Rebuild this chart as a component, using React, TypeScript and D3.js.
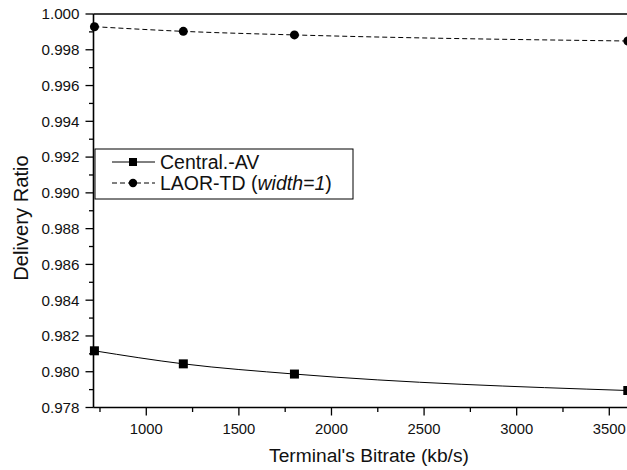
import React from "react";
import * as d3 from "d3";

const bitrates = [720, 1200, 1800, 3600];
const centralAV = [0.98117, 0.98044, 0.97987, 0.97895];
const laorTD = [0.99929, 0.99903, 0.99883, 0.99849];
const yMajorTicks = [0.978, 0.98, 0.982, 0.984, 0.986, 0.988, 0.99, 0.992, 0.994, 0.996, 0.998, 1.0];
const yMinorTicks = [0.979, 0.981, 0.983, 0.985, 0.987, 0.989, 0.991, 0.993, 0.995, 0.997, 0.999];
const xMajorTicks = [1000, 1500, 2000, 2500, 3000, 3500];
const xMinorTicks = [750, 1250, 1750, 2250, 2750, 3250];

const W = 627;
const H = 470;
const m = { left: 93.5, top: 14, bottom: 407.5 };
const font = "'Liberation Sans', Arial, sans-serif";

export default function App() {
  const x = d3.scaleLinear().domain([715, 3600]).range([m.left, 627.8]);
  const y = d3.scaleLinear().domain([0.978, 1.0]).range([m.bottom, m.top]);
  const line = d3
    .line<number>()
    .x((_, i) => x(bitrates[i]))
    .y((d) => y(d))
    .curve(d3.curveMonotoneX);

  const legendX = 95;
  const legendY = 149;

  return (
    <svg width={W} height={H} style={{ position: "absolute", left: 0, top: 0, background: "#fff" }}>
      <defs>
        <clipPath id="plot">
          <rect x={m.left - 6} y={m.top - 6} width={W} height={m.bottom - m.top + 12} />
        </clipPath>
      </defs>
      <rect width={W} height={H} fill="#fff" />

      {/* frame */}
      <line x1={m.left} x2={W + 2} y1={m.top} y2={m.top} stroke="#000" strokeWidth={1.6} />
      <line x1={m.left} x2={W + 2} y1={m.bottom} y2={m.bottom} stroke="#000" strokeWidth={1.6} />
      <line x1={m.left} x2={m.left} y1={m.top} y2={m.bottom} stroke="#000" strokeWidth={1.6} />

      {/* y ticks */}
      {yMajorTicks.map((t) => (
        <g key={"ym" + t}>
          <line x1={m.left - 8} x2={m.left} y1={y(t)} y2={y(t)} stroke="#000" strokeWidth={1.3} />
          <text x={79.5} y={y(t)} dy="0.35em" textAnchor="end" fontSize={15.2} fontFamily={font} fill="#111">
            {t.toFixed(3)}
          </text>
        </g>
      ))}
      {yMinorTicks.map((t) => (
        <line key={"yn" + t} x1={m.left - 4.5} x2={m.left} y1={y(t)} y2={y(t)} stroke="#000" strokeWidth={1.3} />
      ))}

      {/* x ticks */}
      {xMajorTicks.map((t) => (
        <g key={"xm" + t}>
          <line x1={x(t)} x2={x(t)} y1={m.bottom} y2={m.bottom + 8} stroke="#000" strokeWidth={1.3} />
          <text x={x(t)} y={m.bottom + 26} textAnchor="middle" fontSize={14.8} fontFamily={font} fill="#111">
            {t}
          </text>
        </g>
      ))}
      {xMinorTicks.map((t) => (
        <line key={"xn" + t} x1={x(t)} x2={x(t)} y1={m.bottom} y2={m.bottom + 4.5} stroke="#000" strokeWidth={1.3} />
      ))}

      {/* axis titles */}
      <text x={369} y={462} textAnchor="middle" fontSize={19.2} fontFamily={font} fill="#111">
        Terminal's Bitrate (kb/s)
      </text>
      <text
        transform={`translate(28, 218) rotate(-90)`}
        textAnchor="middle"
        fontSize={20.2}
        fontFamily={font}
        fill="#111"
      >
        Delivery Ratio
      </text>

      {/* series */}
      <g clipPath="url(#plot)">
        <path d={line(centralAV) || ""} fill="none" stroke="#000" strokeWidth={1} />
        {centralAV.map((v, i) => (
          <rect key={"c" + i} x={x(bitrates[i]) - 4.5} y={y(v) - 4.5} width={9} height={9} fill="#000" />
        ))}
        <path d={line(laorTD) || ""} fill="none" stroke="#000" strokeWidth={1} strokeDasharray="5,3" />
        {laorTD.map((v, i) => (
          <circle key={"l" + i} cx={x(bitrates[i])} cy={y(v)} r={4.5} fill="#000" />
        ))}
      </g>

      {/* legend */}
      <rect x={legendX} y={legendY} width={258} height={50} fill="#fff" stroke="#000" strokeWidth={1} />
      <line x1={112} x2={155} y1={162} y2={162} stroke="#000" strokeWidth={1} />
      <rect x={129} y={158} width={8} height={8} fill="#000" />
      <text x={160} y={162} dy="0.35em" fontSize={19.5} fontFamily={font} fill="#111">
        Central.-AV
      </text>
      <line x1={112} x2={155} y1={183} y2={183} stroke="#000" strokeWidth={1} strokeDasharray="5,3" />
      <circle cx={133} cy={183} r={4.2} fill="#000" />
      <text x={160} y={183} dy="0.35em" fontSize={19.5} fontFamily={font} fill="#111">
        LAOR-TD (<tspan fontStyle="italic">width=1</tspan>)
      </text>
    </svg>
  );
}
